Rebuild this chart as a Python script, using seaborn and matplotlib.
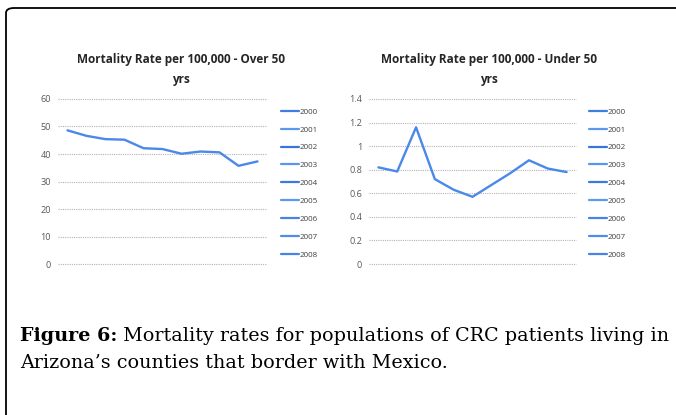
import numpy as np
import pandas as pd
import seaborn as sns
import matplotlib.pyplot as plt
from matplotlib.lines import Line2D
from matplotlib.patches import FancyBboxPatch

# values (11 points each, no x labels shown)
points = list(range(11))
over50 = [48.6, 46.6, 45.4, 45.2, 42.1, 41.8, 40.1, 40.9, 40.6, 35.7, 37.3]
under50 = [0.82, 0.785, 1.16, 0.72, 0.63, 0.57, 0.67, 0.77, 0.88, 0.81, 0.78]
years = ['2000', '2001', '2002', '2003', '2004', '2005', '2006', '2007', '2008']
over50_ticks = [0, 10, 20, 30, 40, 50, 60]
under50_ticks = [0, 0.2, 0.4, 0.6, 0.8, 1, 1.2, 1.4]
under50_ticklabels = ['0', '0.2', '0.4', '0.6', '0.8', '1', '1.2', '1.4']

line_blue = '#4a88ea'
legend_blues = ['#3f7fe0', '#5b98ee', '#3a74dc', '#5a96ec', '#3d78de',
                '#5c9aef', '#4683e4', '#4f8de9', '#4585e6']

sns.set_theme(style='white')
plt.rcParams['font.family'] = ['Open Sans', 'DejaVu Sans']

fig = plt.figure(figsize=(6.76, 4.15), dpi=100)
W, H = 676, 415


def px_axes(x0, y0, x1, y1):
    return fig.add_axes([x0 / W, 1 - y1 / H, (x1 - x0) / W, (y1 - y0) / H])


def draw_panel(ax, values, ticks, ticklabels, ymax):
    df = pd.DataFrame({'point': points, 'rate': values})
    sns.lineplot(data=df, x='point', y='rate', ax=ax, color=line_blue, lw=1.7)
    ax.set_xlim(-0.5, len(points) - 0.5)
    ax.set_ylim(0, ymax)
    ax.set_yticks(ticks)
    ax.set_yticklabels(ticklabels)
    ax.set_xticks([])
    ax.set_xlabel('')
    ax.set_ylabel('')
    for s in ax.spines.values():
        s.set_visible(False)
    ax.yaxis.grid(True, color='#b4b4b4', linestyle=(0, (1, 1)), lw=0.8)
    for gl in ax.get_ygridlines():
        gl.set_clip_on(False)
    ax.set_axisbelow(True)
    ax.tick_params(axis='y', length=0, labelsize=6.6, labelcolor='#595959', pad=5)


ax1 = px_axes(58, 99, 267, 264)
draw_panel(ax1, over50, over50_ticks, [str(t) for t in over50_ticks], 60)
ax2 = px_axes(369, 99, 576, 264)
draw_panel(ax2, under50, under50_ticks, under50_ticklabels, 1.4)

# chart titles, centred over plot + legend like the Excel charts
for cx, title in ((181, 'Mortality Rate per 100,000 - Over 50\nyrs'),
                  (489, 'Mortality Rate per 100,000 - Under 50\nyrs')):
    fig.text(cx / W, 1 - 53 / H, title, ha='center', va='top', fontsize=8.5,
             fontweight='bold', color='#262626', linespacing=1.65)

handles = [Line2D([], [], color=c, lw=1.6) for c in legend_blues]
for lx in (281, 589):
    fig.legend(handles, years, loc='upper left',
               bbox_to_anchor=(lx / W, 1 - 108 / H), frameon=False,
               fontsize=5.8, labelcolor='#404040', handlelength=2.2,
               handletextpad=0.15, labelspacing=1.27, borderpad=0,
               borderaxespad=0)

# caption
cap_font = 'DejaVu Serif'
cap_size = 13.8
t1 = fig.text(20 / W, 1 - 341 / H, 'Figure 6:', fontsize=cap_size,
              fontweight='bold', family=cap_font, color='black', va='baseline')
plt.annotate(' Mortality rates for populations of CRC patients living in',
             xy=(1, 0), xycoords=t1, va='bottom', fontsize=cap_size,
             family=cap_font, color='black')
fig.text(20 / W, 1 - 368 / H, 'Arizona\u2019s counties that border with Mexico.',
         fontsize=cap_size, family=cap_font, color='black', va='baseline')

# rounded frame
frame = FancyBboxPatch((6 / W, -0.2), 1.2, 0.2 + 1 - 8 / H,
                       boxstyle='round,pad=0,rounding_size=0.012',
                       transform=fig.transFigure, fill=False, ec='black',
                       lw=1.3, clip_on=False)
fig.patches.append(frame)

fig.savefig('out.png', dpi=100)
